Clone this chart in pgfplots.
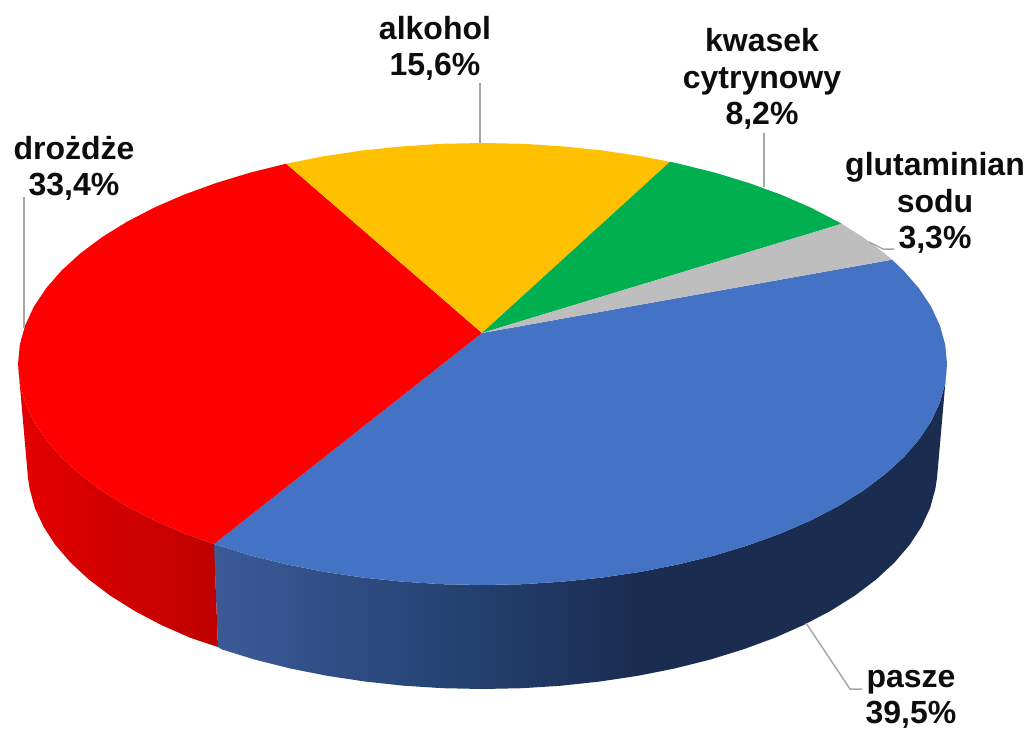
\documentclass[border=0pt]{standalone}
\usepackage{fontspec}
\setmainfont{Liberation Sans}
\usepackage{pgfplots}
\pgfplotsset{compat=1.18}
\definecolor{pieblue}{RGB}{68,114,196}
\definecolor{piered}{RGB}{255,0,0}
\definecolor{pieyellow}{RGB}{255,192,0}
\definecolor{piegreen}{RGB}{0,176,80}
\definecolor{piegray}{RGB}{190,190,190}
\definecolor{leader}{RGB}{166,166,166}
\definecolor{sideblueA}{RGB}{60,90,150}
\definecolor{sideblueB}{RGB}{38,68,118}
\definecolor{sideblueC}{RGB}{26,44,80}
\definecolor{sideredA}{RGB}{228,0,0}
\definecolor{sideredB}{RGB}{190,0,0}
\pgfdeclarehorizontalshading{sideblue}{100bp}{color(0bp)=(sideblueA);color(25bp)=(sideblueA);color(40bp)=(sideblueB);color(54bp)=(sideblueC);color(100bp)=(sideblueC)}
\pgfdeclarehorizontalshading{sidered}{100bp}{color(0bp)=(sideredA);color(25bp)=(sideredA);color(75bp)=(sideredB);color(100bp)=(sideredB)}
\begin{document}
\begin{tikzpicture}
\begin{axis}[
  scale only axis,
  width=1027pt, height=730pt,
  xmin=0, xmax=1027, ymin=0, ymax=730,
  y dir=reverse,
  hide axis,
  clip=false,
  no markers,
]
% keeps the page at the full picture size
\addplot[draw=none] coordinates {(0,0) (1027,730)};
% side walls
\addplot[shade, shading=sideblue, draw=none] coordinates {
  (947,364) (945.2,383.3) (939.9,402.4) (931.2,421.2) (919,439.6) (903.5,457.4) (884.8,474.5)
  (863,490.8) (838.3,506.1) (811,520.3) (781.1,533.3) (748.9,545) (714.8,555.4) (678.8,564.3)
  (641.4,571.7) (602.7,577.5) (563.1,581.6) (523,584.2) (482.5,585) (442,584.2) (401.9,581.6)
  (362.3,577.5) (323.6,571.7) (286.2,564.3) (250.2,555.4) (214,544)
  (218,647) (221.8,649.4) (255.2,659.7) (290.4,668.5) (327.1,675.8) (364.9,681.5) (403.6,685.7)
  (442.9,688.2) (482.5,689) (522.1,688.2) (561.4,685.7) (600.1,681.5) (637.9,675.8) (674.6,668.5)
  (709.8,659.7) (743.2,649.4) (774.7,637.8) (803.9,624.9) (830.6,610.8) (854.8,595.6) (876.1,579.5)
  (894.4,562.6) (909.6,544.9) (921.5,526.7) (930.1,508) (935.3,489.1) (937,478)
};
\addplot[shade, shading=sidered, draw=none] coordinates {
  (214,544) (183.9,533.3) (154,520.3) (126.7,506.1) (102,490.8) (80.2,474.5) (61.5,457.4) (46,439.6)
  (33.8,421.2) (25.1,402.4) (19.8,383.3) (18,364)
  (28,478) (29.7,489.1) (34.9,508) (43.5,526.7) (55.4,544.9) (70.6,562.6) (88.9,579.5) (110.2,595.6)
  (134.4,610.8) (161.1,624.9) (190.3,637.8) (218,647)
};
% top face: pasze
\addplot[fill=pieblue, draw=none] coordinates {
  (482,333) (892,259.7) (903.5,270.6) (919,288.4) (931.2,306.8) (939.9,325.6) (945.2,344.7) (947,364)
  (945.2,383.3) (939.9,402.4) (931.2,421.2) (919,439.6) (903.5,457.4) (884.8,474.5) (863,490.8)
  (838.3,506.1) (811,520.3) (781.1,533.3) (748.9,545) (714.8,555.4) (678.8,564.3) (641.4,571.7)
  (602.7,577.5) (563.1,581.6) (523,584.2) (482.5,585) (442,584.2) (401.9,581.6) (362.3,577.5)
  (323.6,571.7) (286.2,564.3) (250.2,555.4) (214,544)
};
% drozdze
\addplot[fill=piered, draw=none] coordinates {
  (482,333) (214,544) (183.9,533.3) (154,520.3) (126.7,506.1) (102,490.8) (80.2,474.5) (61.5,457.4)
  (46,439.6) (33.8,421.2) (25.1,402.4) (19.8,383.3) (18,364) (19.8,344.7) (25.1,325.6) (33.8,306.8)
  (46,288.4) (61.5,270.6) (80.2,253.5) (102,237.2) (126.7,221.9) (154,207.7) (183.9,194.7) (216.1,183)
  (250.2,172.6) (286.2,163.7)
};
% alkohol
\addplot[fill=pieyellow, draw=none] coordinates {
  (482,333) (286.2,163.7) (323.6,156.3) (362.3,150.5) (401.9,146.4) (442,143.8) (482.5,143) (523,143.8)
  (563.1,146.4) (602.7,150.5) (641.4,156.3) (670,161.8)
};
% kwasek cytrynowy
\addplot[fill=piegreen, draw=none] coordinates {
  (482,333) (670,161.8) (678.8,163.7) (714.8,172.6) (748.9,183) (781.1,194.7) (811,207.7) (838.3,221.9) (841.7,223.8)
};
% glutaminian sodu
\addplot[fill=piegray, draw=none] coordinates {
  (482,333) (841.7,223.8) (863,237.2) (884.8,253.5) (892,259.7)
};
% leader lines
\addplot[leader, line width=1.5pt] coordinates {(480,83) (480,143)};
\addplot[leader, line width=1.5pt] coordinates {(764,133) (764,187)};
\addplot[leader, line width=1.5pt] coordinates {(869,242) (883,249) (894,249)};
\addplot[leader, line width=1.5pt] coordinates {(24,197) (24,328)};
\addplot[leader, line width=1.5pt] coordinates {(806,623) (850,689) (862,689)};
% labels
\tikzset{lab/.style={font=\fontsize{32}{36.5}\selectfont\bfseries, align=center, inner sep=0pt, text=black!95}}
\node[lab] at (axis cs:435,48.5) {alkohol\\15,6\%};
\node[lab] at (axis cs:762,79) {kwasek\\cytrynowy\\8,2\%};
\node[lab] at (axis cs:935,203) {glutaminian\\sodu\\3,3\%};
\node[lab] at (axis cs:74,168.5) {drożdże\\33,4\%};
\node[lab] at (axis cs:911,699.5) {pasze\\39,5\%};
\end{axis}
\end{tikzpicture}
\end{document}
